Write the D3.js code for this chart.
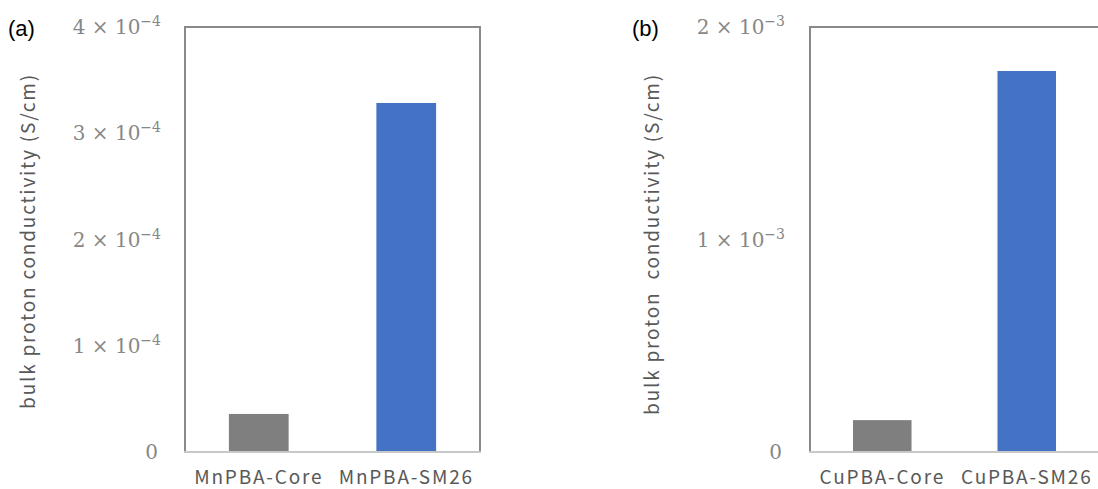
<!DOCTYPE html>
<html>
<head>
<meta charset="utf-8">
<script src="https://cdn.jsdelivr.net/npm/d3@7"></script>
<style>
  body { margin: 0; background: #fff; }
  svg { display: block; }
</style>
</head>
<body>
<div id="chart"></div>
<script>
// chart data
let mnCategories = ["MnPBA-Core", "MnPBA-SM26"];
let mnValues = [3.58e-5, 3.285e-4];
let mnTicks = [0, 1e-4, 2e-4, 3e-4, 4e-4];

let cuCategories = ["CuPBA-Core", "CuPBA-SM26"];
let cuValues = [1.5e-4, 1.793e-3];
let cuTicks = [0, 1e-3, 2e-3];

let barColors = ["#7f7f7f", "#4472c4"];

let svgWidth = 1098;
let svgHeight = 489;

let svg = d3.select("#chart")
	.append("svg")
	.attr("width", svgWidth)
	.attr("height", svgHeight);

function drawPanel(opts) {
	let x = d3.scaleBand()
		.domain(opts.categories)
		.range([opts.left, opts.right]);

	let y = d3.scaleLinear()
		.domain([0, opts.max])
		.range([452, 27]);

	let g = svg.append("g");

	// frame (left, top, right)
	g.append("path")
		.attr("d", `M${opts.left},452 V27 H${opts.right} V452`)
		.attr("fill", "none")
		.attr("stroke", "#898989")
		.attr("stroke-width", 2);

	// bars
	let barW = x.bandwidth() * 0.405;
	g.selectAll("rect")
		.data(opts.values)
		.enter()
		.append("rect")
		.attr("x", (d, i) => x(opts.categories[i]) + x.bandwidth() / 2 - barW / 2)
		.attr("y", d => y(d))
		.attr("width", barW)
		.attr("height", d => y(0) - y(d))
		.attr("fill", (d, i) => barColors[i]);

	// bottom axis line
	g.append("line")
		.attr("x1", opts.left - 1).attr("x2", opts.right + 1)
		.attr("y1", 452).attr("y2", 452)
		.attr("stroke", "#c8c8c8")
		.attr("stroke-width", 2);

	// y tick labels
	let labels = g.selectAll(".ytick")
		.data(opts.ticks)
		.enter()
		.append("text")
		.attr("class", "ytick")
		.attr("x", opts.labelX)
		.attr("y", d => y(d) + 7)
		.attr("text-anchor", "end")
		.attr("font-family", "'DejaVu Serif', serif")
		.attr("font-size", "20px")
		.attr("fill", "#878787");

	labels.each(function(d) {
		let t = d3.select(this);
		if (d === 0) {
			t.attr("dx", -3).text("0");
			return;
		}
		let exp = Math.floor(Math.log10(d) + 1e-9);
		let mant = Math.round(d / Math.pow(10, exp));
		t.append("tspan").text(`${mant} × 10`);
		t.append("tspan")
			.attr("dy", -8)
			.attr("font-size", "14px")
			.text("\u2212" + (-exp));
	});

	// category labels
	g.selectAll(".xcat")
		.data(opts.categories)
		.enter()
		.append("text")
		.attr("class", "xcat")
		.attr("x", d => x(d) + x.bandwidth() / 2)
		.attr("y", 484)
		.attr("text-anchor", "middle")
		.attr("font-family", "'Noto Sans CJK JP', 'Noto Sans', sans-serif")
		.attr("font-size", "19px")
		.attr("letter-spacing", "1.8px")
		.attr("fill", "#595959")
		.text(d => d);

	// y axis title
	g.append("text")
		.attr("transform", `translate(${opts.titleX}, ${opts.titleY}) rotate(-90)`)
		.attr("text-anchor", "middle")
		.attr("font-family", "'Noto Sans CJK JP', 'Noto Sans', sans-serif")
		.attr("font-size", "19px")
		.attr("letter-spacing", "1.8px")
		.attr("fill", "#595959")
		.style("white-space", "pre")
		.text(opts.title);

	// panel tag
	g.append("text")
		.attr("x", opts.tagX)
		.attr("y", 36)
		.attr("font-family", "'Liberation Sans', Arial, sans-serif")
		.attr("font-size", "22px")
		.attr("fill", "#000")
		.text(opts.tag);
}

drawPanel({
	categories: mnCategories,
	values: mnValues,
	ticks: mnTicks,
	max: 4e-4,
	left: 185,
	right: 480,
	labelX: 161,
	titleX: 35,
	titleY: 241,
	title: "bulk proton conductivity (S/cm)",
	tag: "(a)",
	tagX: 8
});

drawPanel({
	categories: cuCategories,
	values: cuValues,
	ticks: cuTicks,
	max: 2e-3,
	left: 810,
	right: 1099,
	labelX: 785,
	titleX: 659,
	titleY: 244,
	title: "bulk proton  conductivity (S/cm)",
	tag: "(b)",
	tagX: 632
});
</script>
</body>
</html>
